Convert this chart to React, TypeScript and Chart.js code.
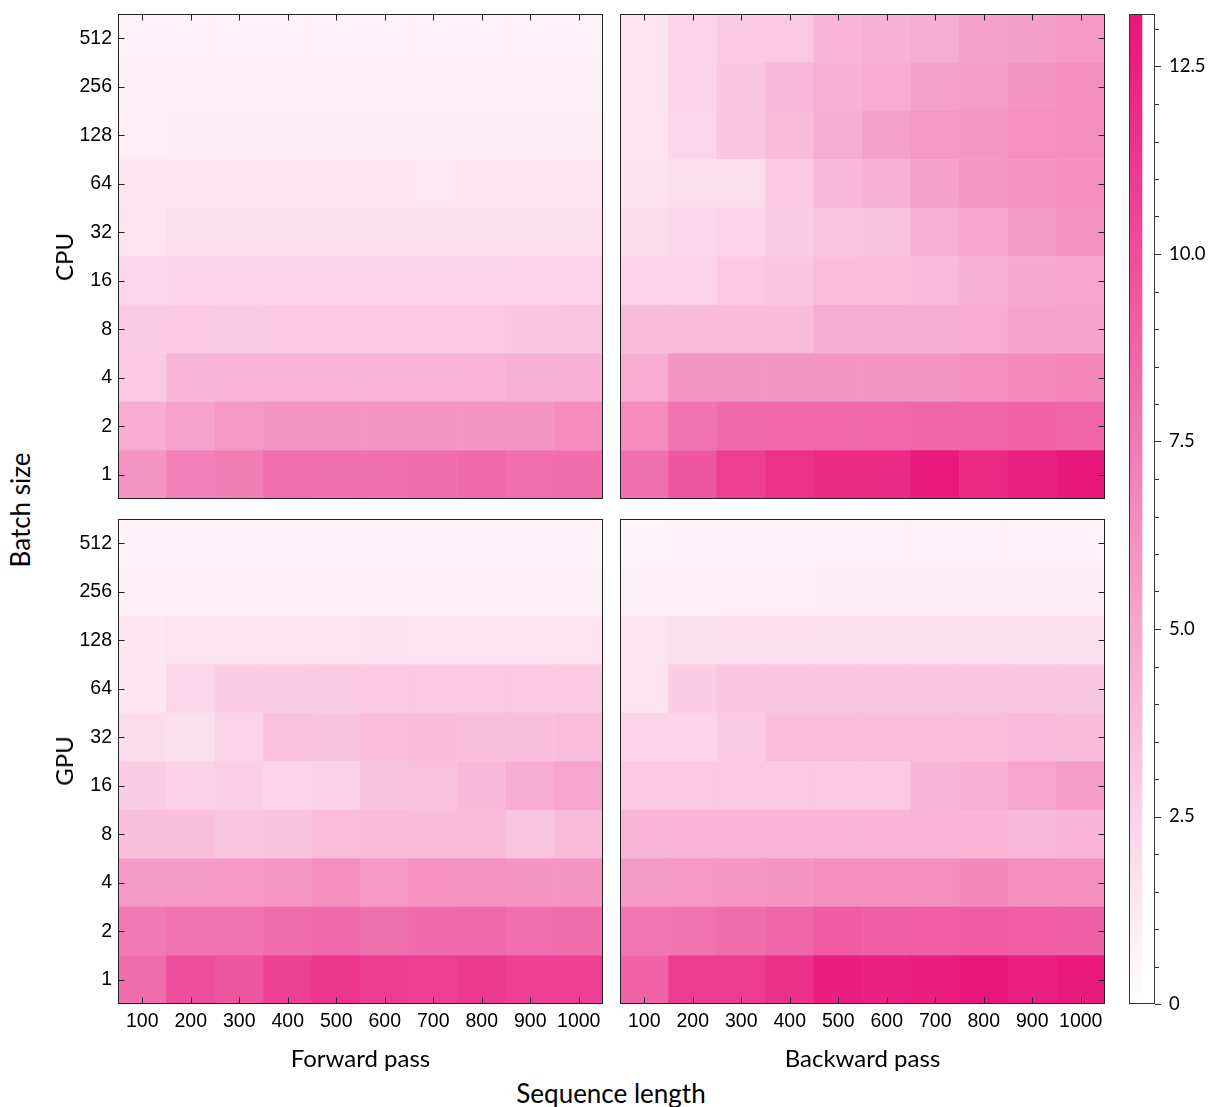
import React, { useEffect, useRef } from "react";
import { Chart, registerables } from "chart.js";

Chart.register(...registerables);

// ---------- data ----------
const seqLengths = ["100", "200", "300", "400", "500", "600", "700", "800", "900", "1000"];
// rows listed top (512) to bottom (1), as displayed
const batchSizes = ["512", "256", "128", "64", "32", "16", "8", "4", "2", "1"];

const cpuForward = [
  [0.8, 0.8, 0.8, 0.8, 0.8, 0.8, 0.8, 0.8, 0.8, 0.8],
  [0.9, 0.9, 0.9, 0.9, 0.9, 0.9, 0.9, 0.9, 0.9, 0.9],
  [1.0, 1.1, 1.1, 1.1, 1.1, 1.1, 1.1, 1.1, 1.1, 1.1],
  [1.5, 1.5, 1.5, 1.4, 1.4, 1.4, 1.3, 1.4, 1.5, 1.5],
  [1.6, 1.9, 1.9, 1.9, 1.9, 1.9, 1.9, 1.9, 1.9, 1.9],
  [2.3, 2.4, 2.4, 2.4, 2.4, 2.4, 2.4, 2.4, 2.5, 2.5],
  [2.9, 3.0, 2.9, 3.0, 3.0, 3.0, 3.0, 3.1, 3.2, 3.3],
  [3.0, 4.1, 4.2, 4.2, 4.2, 4.2, 4.2, 4.2, 4.4, 4.4],
  [4.7, 5.2, 5.8, 6.0, 6.0, 6.0, 6.0, 6.0, 6.0, 6.5],
  [6.0, 7.2, 7.3, 8.1, 8.0, 8.0, 8.2, 8.4, 8.1, 8.2],
];

const cpuBackward = [
  [1.5, 2.4, 3.0, 3.1, 4.2, 4.4, 4.6, 5.3, 5.5, 5.8],
  [1.5, 2.4, 3.2, 4.0, 4.4, 4.7, 5.3, 5.6, 6.0, 6.4],
  [1.6, 2.3, 3.2, 3.8, 4.6, 5.3, 5.8, 5.9, 6.2, 6.4],
  [1.7, 1.9, 1.9, 3.0, 4.0, 4.4, 5.3, 5.9, 6.1, 6.3],
  [2.0, 2.2, 2.4, 2.8, 3.3, 3.4, 4.5, 5.0, 5.7, 6.1],
  [2.5, 2.5, 3.1, 3.2, 3.7, 3.7, 3.9, 4.4, 4.8, 5.1],
  [3.8, 3.8, 3.8, 3.8, 4.6, 4.6, 4.6, 4.7, 5.2, 5.2],
  [4.7, 6.0, 6.0, 6.0, 6.0, 6.0, 6.0, 6.3, 6.6, 6.8],
  [6.5, 7.9, 8.4, 8.5, 8.5, 8.5, 8.6, 8.6, 8.8, 8.7],
  [8.0, 9.5, 10.9, 11.6, 12.0, 12.0, 12.9, 12.2, 12.5, 13.1],
];

const gpuForward = [
  [0.7, 0.7, 0.7, 0.7, 0.7, 0.7, 0.7, 0.7, 0.7, 0.7],
  [0.9, 1.0, 1.0, 1.0, 1.0, 1.0, 1.0, 1.0, 1.0, 1.0],
  [1.4, 1.6, 1.6, 1.6, 1.6, 1.7, 1.6, 1.6, 1.6, 1.6],
  [1.4, 2.3, 2.8, 2.8, 2.9, 3.1, 3.1, 3.1, 3.1, 3.0],
  [2.0, 1.8, 2.5, 3.5, 3.4, 3.7, 3.8, 3.6, 3.6, 3.7],
  [2.8, 2.6, 2.7, 2.4, 2.6, 3.4, 3.5, 4.0, 4.6, 5.0],
  [3.6, 3.6, 3.2, 3.4, 3.7, 3.8, 3.8, 3.8, 3.3, 3.8],
  [5.7, 5.7, 5.8, 5.9, 6.4, 5.8, 6.2, 6.1, 6.0, 6.0],
  [7.5, 7.9, 7.9, 8.2, 8.4, 8.0, 8.4, 8.4, 8.1, 8.2],
  [8.2, 9.9, 9.5, 10.8, 11.4, 11.0, 10.9, 11.1, 10.9, 10.9],
];

const gpuBackward = [
  [0.6, 0.7, 0.7, 0.7, 0.8, 0.8, 0.8, 0.8, 0.8, 0.8],
  [0.9, 1.0, 1.0, 1.0, 1.1, 1.1, 1.1, 1.1, 1.1, 1.1],
  [1.5, 1.8, 1.9, 1.9, 1.9, 1.9, 1.9, 1.9, 1.8, 1.8],
  [1.6, 2.8, 3.2, 3.2, 3.2, 3.2, 3.2, 3.2, 3.2, 3.2],
  [2.5, 2.4, 2.9, 3.7, 3.7, 3.7, 3.7, 3.7, 3.9, 3.8],
  [3.1, 3.1, 3.1, 3.1, 3.1, 3.1, 4.1, 4.5, 5.0, 5.6],
  [4.2, 4.2, 4.2, 4.2, 4.2, 4.2, 4.2, 4.2, 4.0, 4.2],
  [5.7, 5.8, 5.9, 6.0, 6.4, 6.3, 6.4, 6.7, 6.4, 6.3],
  [7.8, 7.9, 8.2, 8.6, 9.2, 9.0, 9.1, 9.3, 9.1, 8.9],
  [8.8, 11.0, 11.0, 11.7, 12.7, 12.5, 12.7, 13.2, 12.6, 12.9],
];

const colorbarTicks = [0, 2.5, 5, 7.5, 10, 12.5];
const colorbarMinorStep = 0.5;
const VMIN = 0;
const VMAX = 13.2;

// ---------- styling ----------
const LOW = [255, 255, 255];
const HIGH = [232, 21, 123];
const HIGH_CSS = `rgb(${HIGH[0]},${HIGH[1]},${HIGH[2]})`;
const FRAME = "#222222";
const TICK_FONT = { family: "'Liberation Sans', Arial, sans-serif", size: 19.5 };
const CB_FONT = { family: "Lato, 'Noto Sans', sans-serif", size: 18.5 };

function colorFor(v: number): string {
  const f = Math.max(0, Math.min(1, (v - VMIN) / (VMAX - VMIN)));
  const c = LOW.map((l, i) => Math.round(l + (HIGH[i] - l) * f));
  return `rgb(${c[0]},${c[1]},${c[2]})`;
}

const framePlugin = {
  id: "frame",
  afterDatasetsDraw(chart: any, _args: any, opts: any) {
    const { ctx, chartArea: a, scales } = chart;
    const L = 6.5;
    ctx.save();
    ctx.strokeStyle = FRAME;
    ctx.lineWidth = 1;
    ctx.beginPath();
    const xs = scales.x;
    const ys = scales.y;
    seqLengths.forEach((_, i) => {
      const x = Math.round(xs.getPixelForValue(i)) + 0.5;
      if (opts.top) {
        ctx.moveTo(x, a.top);
        ctx.lineTo(x, a.top + L);
      }
      if (opts.bottom) {
        ctx.moveTo(x, a.bottom);
        ctx.lineTo(x, a.bottom - L);
      }
    });
    batchSizes.forEach((_, i) => {
      const y = Math.round(ys.getPixelForValue(9.5 - i)) + 0.5;
      if (opts.left) {
        ctx.moveTo(a.left, y);
        ctx.lineTo(a.left + L, y);
      }
      if (opts.right) {
        ctx.moveTo(a.right, y);
        ctx.lineTo(a.right - L, y);
      }
    });
    ctx.stroke();
    ctx.strokeRect(a.left + 0.5, a.top + 0.5, a.width - 1, a.height - 1);
    ctx.restore();
  },
};

const colorbarPlugin = {
  id: "cbframe",
  afterDatasetsDraw(chart: any) {
    const { ctx, chartArea: a, scales } = chart;
    const ys = scales.y;
    ctx.save();
    ctx.strokeStyle = "#333333";
    ctx.lineWidth = 1;
    ctx.beginPath();
    for (let k = 0; k * colorbarMinorStep <= VMAX + 1e-9; k++) {
      const v = k * colorbarMinorStep;
      const major = colorbarTicks.some((t) => Math.abs(t - v) < 1e-9);
      const y = Math.round(ys.getPixelForValue(v)) + 0.5;
      ctx.moveTo(a.right, y);
      ctx.lineTo(a.right + (major ? 6 : 4), y);
    }
    ctx.stroke();
    ctx.strokeRect(a.left + 0.5, a.top + 0.5, a.width - 1, a.height - 1);
    ctx.restore();
  },
};

type PanelProps = {
  values: number[][];
  left: number;
  top: number;
  width: number;
  height: number;
  padding: any;
  showX: boolean;
  showY: boolean;
  ticks: { top?: boolean; bottom?: boolean; left?: boolean; right?: boolean };
};

function HeatPanel(p: PanelProps) {
  const ref = useRef<HTMLCanvasElement>(null);
  useEffect(() => {
    const rowsUp = [...p.values].reverse(); // index 0 = batch size 1 (bottom)
    const chart = new Chart(ref.current as HTMLCanvasElement, {
      type: "bar",
      data: {
        labels: seqLengths,
        datasets: rowsUp.map((row, r) => ({
          label: batchSizes[9 - r],
          data: row.map(() => [r, r + 1]),
          backgroundColor: row.map(colorFor),
          borderWidth: 0,
          barPercentage: 1,
          categoryPercentage: 1,
          grouped: false,
        })) as any,
      },
      options: {
        responsive: false,
        animation: false,
        devicePixelRatio: 1,
        events: [],
        layout: { padding: p.padding },
        plugins: {
          legend: { display: false },
          tooltip: { enabled: false },
          frame: p.ticks,
        } as any,
        scales: {
          x: {
            type: "category",
            offset: true,
            display: p.showX,
            grid: { display: false, drawTicks: false },
            border: { display: false },
            ticks: {
              font: TICK_FONT,
              color: "#000",
              padding: 6,
              maxRotation: 0,
              autoSkip: false,
            },
            afterFit: (s: any) => {
              s.height = p.showX ? 45 : 0;
              s.paddingLeft = 0;
              s.paddingRight = 0;
            },
          },
          y: {
            type: "linear",
            min: 0,
            max: 10,
            display: p.showY,
            grid: { display: false, drawTicks: false },
            border: { display: false },
            afterBuildTicks: (s: any) => {
              s.ticks = batchSizes.map((_, i) => ({ value: 0.5 + i }));
            },
            ticks: {
              font: TICK_FONT,
              color: "#000",
              padding: 6,
              callback: (v: any) => batchSizes[Math.round(9.5 - Number(v))],
            },
            afterFit: (s: any) => {
              s.width = p.showY ? 78 : 0;
              s.paddingTop = 0;
              s.paddingBottom = 0;
            },
          },
        } as any,
      },
      plugins: [framePlugin],
    });
    return () => chart.destroy();
  }, []);
  return (
    <canvas
      ref={ref}
      width={p.width}
      height={p.height}
      style={{ position: "absolute", left: p.left, top: p.top, display: "block" }}
    />
  );
}

function Colorbar() {
  const ref = useRef<HTMLCanvasElement>(null);
  useEffect(() => {
    const chart = new Chart(ref.current as HTMLCanvasElement, {
      type: "bar",
      data: {
        labels: [""],
        datasets: [
          {
            data: [[VMIN, VMAX]],
            backgroundColor: (c: any) => {
              const ch = c.chart;
              if (!ch.chartArea) return HIGH_CSS;
              const ys = ch.scales.y;
              const g = ch.ctx.createLinearGradient(0, ys.getPixelForValue(VMIN), 0, ys.getPixelForValue(VMAX));
              g.addColorStop(0, "rgb(255,255,255)");
              g.addColorStop(1, HIGH_CSS);
              return g;
            },
            borderWidth: 0,
            barPercentage: 1,
            categoryPercentage: 1,
          },
        ] as any,
      },
      options: {
        responsive: false,
        animation: false,
        devicePixelRatio: 1,
        events: [],
        layout: { padding: { left: 3, top: 2, bottom: 12, right: 0 } },
        plugins: { legend: { display: false }, tooltip: { enabled: false } },
        scales: {
          x: {
            display: false,
            offset: false,
            afterFit: (s: any) => {
              s.height = 0;
            },
          },
          y: {
            type: "linear",
            position: "right",
            min: VMIN,
            max: VMAX,
            grid: { display: false, drawTicks: false },
            border: { display: false },
            afterBuildTicks: (s: any) => {
              s.ticks = colorbarTicks.map((v) => ({ value: v }));
            },
            ticks: {
              font: CB_FONT,
              color: "#000",
              padding: 14,
              callback: (v: any) => (Number(v) === 0 ? "0" : Number(v).toFixed(1)),
            },
            afterFit: (s: any) => {
              s.width = 56;
              s.paddingTop = 0;
              s.paddingBottom = 0;
            },
          },
        } as any,
      },
      plugins: [colorbarPlugin],
    });
    return () => chart.destroy();
  }, []);
  return (
    <canvas
      ref={ref}
      width={85}
      height={1004}
      style={{ position: "absolute", left: 1126, top: 12, display: "block" }}
    />
  );
}

function Label(props: { text: string; x: number; y: number; size: number; rotate?: boolean }) {
  return (
    <div
      style={{
        position: "absolute",
        left: props.x,
        top: props.y,
        transform: `translate(-50%, -50%)${props.rotate ? " rotate(-90deg)" : ""}`,
        fontFamily: "Lato, 'Noto Sans', sans-serif",
        fontSize: props.size,
        lineHeight: 1,
        whiteSpace: "nowrap",
        color: "#000",
      }}
    >
      {props.text}
    </div>
  );
}

export default function App() {
  return (
    <div
      style={{
        position: "absolute",
        left: 0,
        top: 0,
        width: 1211,
        height: 1107,
        background: "#fff",
        overflow: "hidden",
      }}
    >
      <HeatPanel
        values={cpuForward}
        left={40}
        top={12}
        width={565}
        height={489}
        padding={{ left: 0, top: 2, right: 2, bottom: 2 }}
        showX={false}
        showY={true}
        ticks={{ top: true, left: true }}
      />
      <HeatPanel
        values={cpuBackward}
        left={618}
        top={12}
        width={489}
        height={489}
        padding={{ left: 2, top: 2, right: 2, bottom: 2 }}
        showX={false}
        showY={false}
        ticks={{ top: true, right: true }}
      />
      <HeatPanel
        values={gpuForward}
        left={40}
        top={517}
        width={565}
        height={532}
        padding={{ left: 0, top: 2, right: 2, bottom: 0 }}
        showX={true}
        showY={true}
        ticks={{ bottom: true, left: true }}
      />
      <HeatPanel
        values={gpuBackward}
        left={618}
        top={517}
        width={489}
        height={532}
        padding={{ left: 2, top: 2, right: 2, bottom: 0 }}
        showX={true}
        showY={false}
        ticks={{ bottom: true, right: true }}
      />
      <Colorbar />
      <Label text="CPU" x={64} y={257} size={24} rotate />
      <Label text="GPU" x={64} y={761} size={24} rotate />
      <Label text="Batch size" x={20} y={510} size={26} rotate />
      <Label text="Forward pass" x={360.5} y={1058} size={24} />
      <Label text="Backward pass" x={862.5} y={1058} size={24} />
      <Label text="Sequence length" x={611} y={1093} size={26} />
    </div>
  );
}
